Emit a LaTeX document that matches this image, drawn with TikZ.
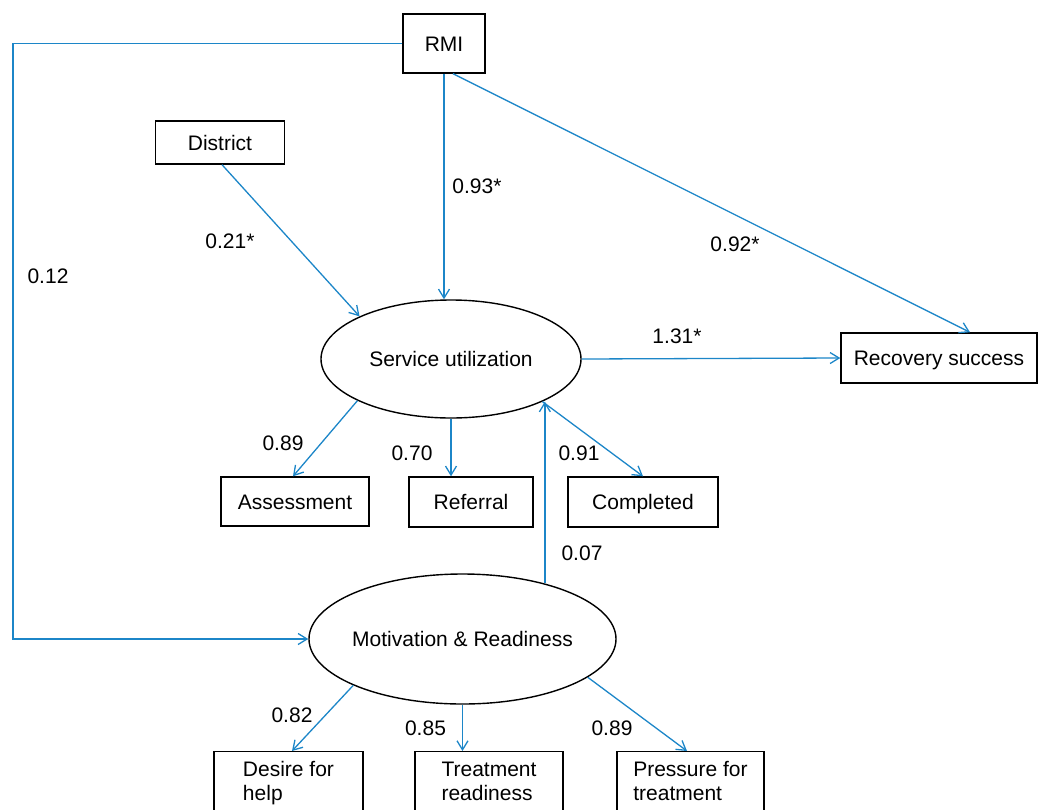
\documentclass[tikz,border=0pt]{standalone}
\usepackage{fontspec}
\setmainfont{Liberation Sans}
\usetikzlibrary{arrows.meta,shapes.geometric,calc}
\definecolor{lineblue}{RGB}{28,134,200}
\begin{document}
\begin{tikzpicture}[x=1pt,y=-1pt,
  every node/.style={font=\fontsize{21}{24}\selectfont, inner sep=0pt},
  box/.style={draw=black, line width=1.4pt, rectangle, text height=15pt, text depth=0pt},
  bbox/.style={draw=black, line width=1.4pt, rectangle, align=left, anchor=north},
  oval/.style={draw=black, line width=1.4pt, ellipse, text height=15pt, text depth=0pt},
  arr/.style={draw=lineblue, line width=1.3pt, -{Straight Barb[length=9pt,width=11pt]}},
  lbl/.style={font=\fontsize{21}{24}\selectfont}
]
\useasboundingbox (0,0) rectangle (1038,809);
\clip (0,0) rectangle (1038,809);

% nodes
\node[box, minimum width=82pt, minimum height=59pt] (rmi) at (444,43.5) {RMI};
\node[box, minimum width=129pt, minimum height=43pt] (dist) at (220,142.5) {District};
\node[oval, minimum width=260pt, minimum height=118pt] (serv) at (451,359) {\makebox[0pt]{Service utilization}};
\node[box, minimum width=196pt, minimum height=50pt] (rec) at (939,358) {Recovery success};
\node[box, minimum width=148pt, minimum height=49pt] (assess) at (295,501.5) {Assessment};
\node[box, minimum width=124pt, minimum height=50pt] (ref) at (471,502) {Referral};
\node[box, minimum width=150pt, minimum height=50pt] (comp) at (643,502) {Completed};
\node[oval, minimum width=307pt, minimum height=130pt] (motiv) at (462.5,639) {\makebox[0pt]{Motivation \& Readiness}};
\node[bbox, minimum width=149pt] (desire) at (288.5,751) {\rule{0pt}{25pt}Desire for\\help\rule[-25pt]{0pt}{25pt}};
\node[bbox, minimum width=148pt] (treat) at (489,751) {\rule{0pt}{25pt}Treatment\\readiness\rule[-25pt]{0pt}{25pt}};
\node[bbox, minimum width=147pt] (press) at (690.5,751) {\rule{0pt}{25pt}Pressure for\\treatment\rule[-25pt]{0pt}{25pt}};

% labels
\node[lbl] (l1) at (477,186) {0.93*};
\node[lbl] (l2) at (230,241) {0.21*};
\node[lbl] (l3) at (48,276) {0.12};
\node[lbl] (l4) at (735,244) {0.92*};
\node[lbl] (l5) at (677,336) {1.31*};
\node[lbl] (l6) at (283,443) {0.89};
\node[lbl] (l7) at (412,453) {0.70};
\node[lbl] (l8) at (579,453) {0.91};
\node[lbl] (l9) at (582,553) {0.07};
\node[lbl] (l10) at (292,715) {0.82};
\node[lbl] (l11) at (425.5,728) {0.85};
\node[lbl] (l12) at (612,728) {0.89};

% connectors
\coordinate (corner) at (13,43.5);
\draw[arr] (rmi.west) -- (corner) |- (motiv.west);
\draw[arr] (rmi.south) -- (rmi.south |- serv.north);
\draw[arr] ([xshift=9pt]rmi.south) -- ([xshift=31pt]rec.north);
\draw[arr] ([xshift=2pt]dist.south) -- (serv.155.7);
\draw[arr] (serv.east) -- (rec.west);
\draw[arr] (serv.204.5) -- ([xshift=-2pt]assess.north);
\draw[arr] (serv.south) -- (serv.south |- ref.north);
\draw[arr] (serv.335.5) -- (comp.north);
\draw[arr] (motiv.34.5) -- (motiv.34.5 |- serv.335.5);
\draw[arr] (motiv.203.3) -- ([xshift=3.5pt]desire.north);
\draw[arr] (motiv.south) -- (motiv.south |- treat.north);
\draw[arr] (motiv.343.2) -- ([xshift=-3.5pt]press.north);
\end{tikzpicture}
\end{document}
